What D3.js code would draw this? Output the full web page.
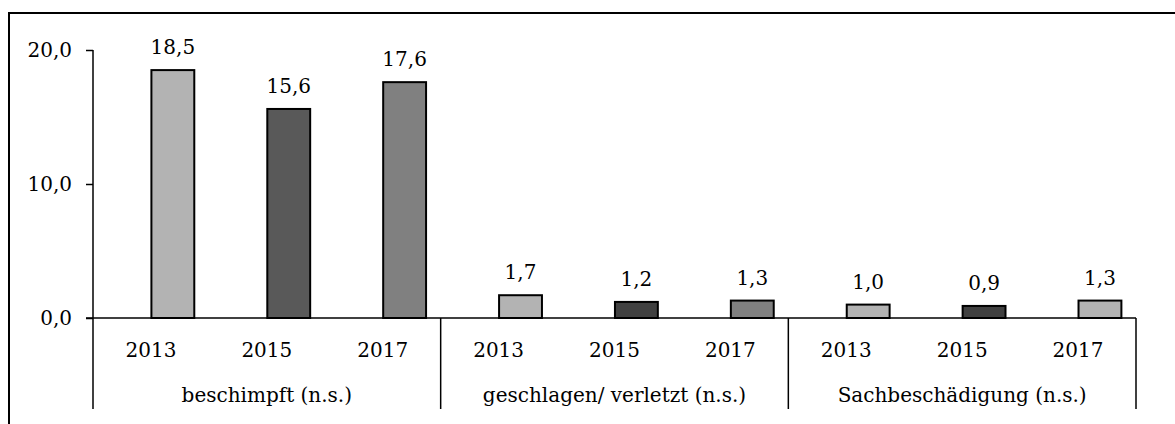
<!DOCTYPE html>
<html>
<head>
<meta charset="utf-8">
<script src="https://cdn.jsdelivr.net/npm/d3@7"></script>
<style>
  body { margin: 0; background: #fff; }
  text { font-family: "DejaVu Serif", serif; fill: #000; }
</style>
</head>
<body>
<svg class="canvas" width="1175" height="424"></svg>
<script>
const groups = ["beschimpft (n.s.)", "geschlagen/ verletzt (n.s.)", "Sachbeschädigung (n.s.)"];
const years = ["2013", "2015", "2017"];
const values = [
  [18.5, 15.6, 17.6],
  [1.7, 1.2, 1.3],
  [1.0, 0.9, 1.3],
];
const colors = [
  ["#b3b3b3", "#595959", "#808080"],
  ["#b3b3b3", "#404040", "#808080"],
  ["#b3b3b3", "#404040", "#b3b3b3"],
];
const yTicks = [0, 10, 20];

const svg = d3.select(".canvas");

// outer frame (runs off the right and bottom edge)
svg.append("rect")
  .attr("x", 9).attr("y", 13)
  .attr("width", 1200).attr("height", 450)
  .attr("fill", "none").attr("stroke", "#000").attr("stroke-width", 2);

const left = 93, right = 1136, zeroY = 318, bottomY = 409;

const data = [];
groups.forEach((g, gi) => {
  years.forEach((yr, yi) => {
    data.push({ key: gi + "-" + yi, group: g, year: yr, value: values[gi][yi], color: colors[gi][yi] });
  });
});

// category slots (labels centred here)
const slot = d3.scaleBand()
  .domain(data.map((d) => d.key))
  .range([left, right]);

// bars sit off-centre in their slot, like the original
const x = d3.scaleBand()
  .domain(data.map((d) => d.key))
  .range([left, right])
  .paddingInner(0.63)
  .paddingOuter(0.315)
  .align(0.8);

const y = d3.scaleLinear().domain([0, 20]).range([zeroY, 50]);

// y axis
const yAxis = d3.axisLeft(y)
  .tickValues(yTicks)
  .tickSize(7)
  .tickPadding(14)
  .tickFormat((d) => d3.format(".1f")(d).replace(".", ","));

const yAxisGroup = svg.append("g")
  .attr("transform", `translate(${left},0)`)
  .call(yAxis);
yAxisGroup.select(".domain").remove();
yAxisGroup.selectAll("line").attr("stroke", "#000").attr("stroke-width", 1.5);
yAxisGroup.selectAll("text")
  .style("font-family", "DejaVu Serif")
  .style("font-size", "20px")
  .attr("fill", "#000");

svg.append("line")
  .attr("x1", left).attr("x2", left)
  .attr("y1", y(20)).attr("y2", bottomY)
  .attr("stroke", "#000").attr("stroke-width", 1.5);

// bars
svg.selectAll("rect.bar")
  .data(data)
  .enter()
  .append("rect")
  .attr("class", "bar")
  .attr("x", (d) => x(d.key))
  .attr("width", x.bandwidth())
  .attr("y", (d) => y(d.value))
  .attr("height", (d) => zeroY - y(d.value))
  .attr("fill", (d) => d.color)
  .attr("stroke", "#000")
  .attr("stroke-width", 2);

// baseline
svg.append("line")
  .attr("x1", left - 7).attr("x2", right)
  .attr("y1", zeroY).attr("y2", zeroY)
  .attr("stroke", "#000").attr("stroke-width", 1.5);

// value labels
svg.selectAll("text.val")
  .data(data)
  .enter()
  .append("text")
  .attr("class", "val")
  .attr("x", (d) => x(d.key) + x.bandwidth() / 2)
  .attr("y", (d) => y(d.value) - 16)
  .attr("text-anchor", "middle")
  .style("font-size", "20px")
  .text((d) => d3.format(".1f")(d.value).replace(".", ","));

// year labels
svg.selectAll("text.year")
  .data(data)
  .enter()
  .append("text")
  .attr("class", "year")
  .attr("x", (d) => slot(d.key) + slot.bandwidth() / 2)
  .attr("y", 357)
  .attr("text-anchor", "middle")
  .style("font-size", "20px")
  .text((d) => d.year);

// group separators and labels
const step = slot.step();
groups.forEach((g, gi) => {
  const gx0 = left + gi * 3 * step;
  const gx1 = gx0 + 3 * step;
  svg.append("line")
    .attr("x1", gx1).attr("x2", gx1)
    .attr("y1", zeroY).attr("y2", bottomY)
    .attr("stroke", "#000").attr("stroke-width", 1.5);
  svg.append("text")
    .attr("x", (gx0 + gx1) / 2)
    .attr("y", 402)
    .attr("text-anchor", "middle")
    .style("font-size", "20px")
    .text(g);
});
</script>
</body>
</html>
